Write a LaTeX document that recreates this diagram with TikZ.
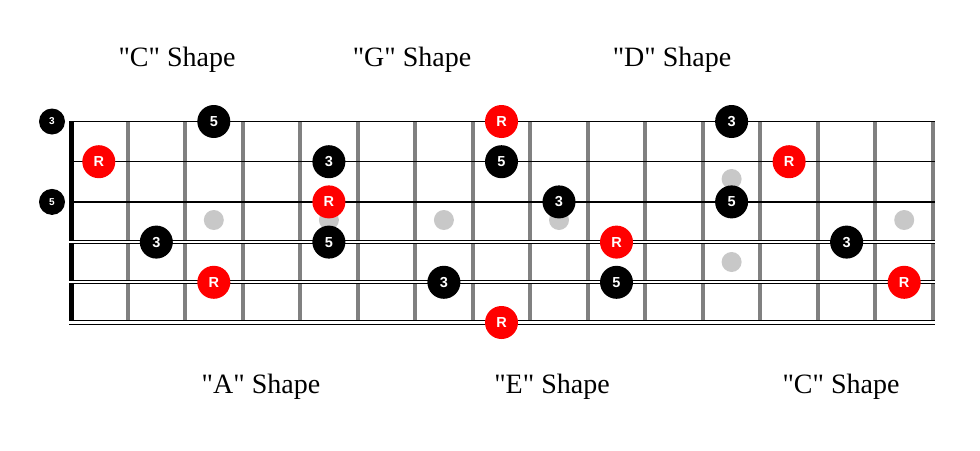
\documentclass[tikz,border=0pt]{standalone}
\usepackage{fontspec}
\setmainfont{Liberation Serif}[Ligatures=TeXOff]
\newfontfamily\notefont{Liberation Sans}
\definecolor{fretgray}{RGB}{128,128,128}
\definecolor{dotgray}{RGB}{200,200,200}
\definecolor{notered}{RGB}{255,0,0}
\tikzset{
  fretline/.style={draw=fretgray, line width=4pt},
  nutline/.style={draw=black, line width=5pt},
  plainstring/.style={draw=black, line width=1.3pt},
  woundstring/.style={draw=black, line width=0.8pt, double=white},
  inlay/.style={circle, fill=dotgray, inner sep=0pt, minimum size=20pt},
  notebase/.style={circle, inner sep=0pt, minimum size=33pt, text=white,
    font=\notefont\bfseries\fontsize{14.5}{14.5}\selectfont},
  rootnote/.style={notebase, fill=notered},
  tonenote/.style={notebase, fill=black},
  opennote/.style={circle, fill=black, inner sep=0pt, minimum size=26pt, text=white,
    font=\notefont\bfseries\fontsize{10}{10}\selectfont},
  shapelabel/.style={anchor=base, inner sep=0pt, font=\fontsize{28}{28}\selectfont}
}
\begin{document}
\begin{tikzpicture}[x=1pt,y=-1pt]
\useasboundingbox (0,0) rectangle (980,450);
% frets
\foreach \k in {1,...,15}{
  \draw[fretline] ({70+\k*57.53},121.5) -- ({70+\k*57.53},322.5);
}
% nut
\draw[nutline] (71.5,121.5) -- (71.5,322.5);
% strings
\draw[plainstring] (69,121.5) -- (935,121.5);
\draw[plainstring] (69,161.7) -- (935,161.7);
\draw[plainstring] (69,201.9) -- (935,201.9);
\draw[woundstring, double distance=2pt] (69,242.1) -- (935,242.1);
\draw[woundstring, double distance=2.3pt] (69,282.3) -- (935,282.3);
\draw[woundstring, double distance=3pt] (69,322.5) -- (935,322.5);
% inlays
\node[inlay] (i3) at (213.8,220) {};
\node[inlay] (i5) at (328.9,220) {};
\node[inlay] (i7) at (443.9,220) {};
\node[inlay] (i9) at (559.0,220) {};
\node[inlay] (i12a) at (731.6,179) {};
\node[inlay] (i12b) at (731.6,262) {};
\node[inlay] (i15) at (904.2,220) {};
% open strings
\node[opennote] (o1) at (52,121.5) {3};
\node[opennote] (o3) at (52,201.9) {5};
% string 1
\node[tonenote] (a1) at (213.8,121.5) {5};
\node[rootnote] (a2) at (501.5,121.5) {R};
\node[tonenote] (a3) at (731.6,121.5) {3};
% string 2
\node[rootnote] (b1) at (98.8,161.7) {R};
\node[tonenote] (b2) at (328.9,161.7) {3};
\node[tonenote] (b3) at (501.5,161.7) {5};
\node[rootnote] (b4) at (789.1,161.7) {R};
% string 3
\node[rootnote] (c1) at (328.9,201.9) {R};
\node[tonenote] (c2) at (559.0,201.9) {3};
\node[tonenote] (c3) at (731.6,201.9) {5};
% string 4
\node[tonenote] (d1) at (156.3,242.1) {3};
\node[tonenote] (d2) at (328.9,242.1) {5};
\node[rootnote] (d3) at (616.5,242.1) {R};
\node[tonenote] (d4) at (846.6,242.1) {3};
% string 5
\node[rootnote] (e1) at (213.8,282.3) {R};
\node[tonenote] (e2) at (443.9,282.3) {3};
\node[tonenote] (e3) at (616.5,282.3) {5};
\node[rootnote] (e4) at (904.2,282.3) {R};
% string 6
\node[rootnote] (f1) at (501.5,322.5) {R};
% labels
\node[shapelabel] (lC1) at (177,66) {"C" Shape};
\node[shapelabel] (lG) at (412,66) {"G" Shape};
\node[shapelabel] (lD) at (672,66) {"D" Shape};
\node[shapelabel] (lA) at (261,393) {"A" Shape};
\node[shapelabel] (lE) at (552,393) {"E" Shape};
\node[shapelabel] (lC2) at (841,393) {"C" Shape};
\end{tikzpicture}
\end{document}
